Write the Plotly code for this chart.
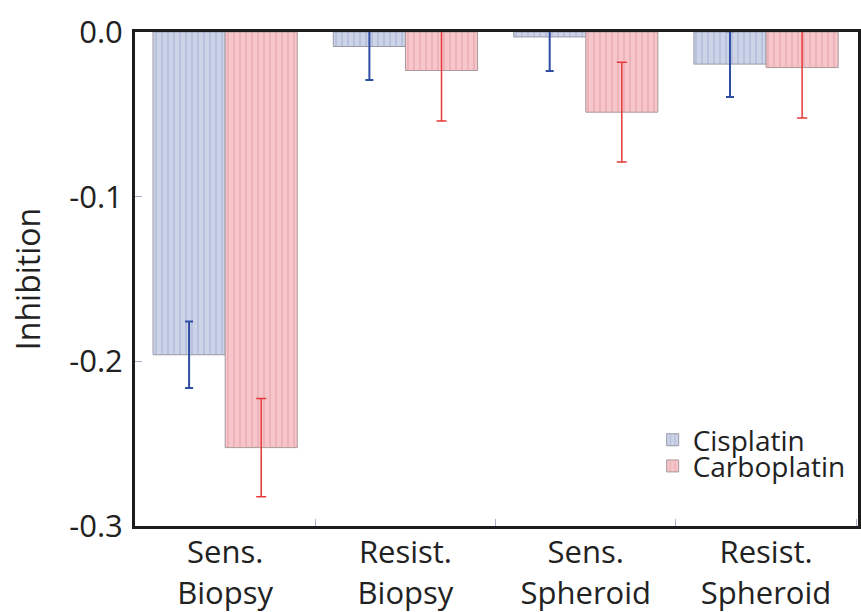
import plotly.graph_objects as go

categories = ["Sens.<br>Biopsy", "Resist.<br>Biopsy", "Sens.<br>Spheroid", "Resist.<br>Spheroid"]
cisplatin = [-0.196, -0.0088, -0.003, -0.0195]
cisplatin_err = [0.0202, 0.0204, 0.0207, 0.0200]
carboplatin = [-0.2524, -0.0234, -0.0487, -0.0216]
carboplatin_err = [0.0299, 0.0307, 0.0303, 0.0307]
y_tickvals = [0.0, -0.1, -0.2, -0.3]
y_ticktext = ["0.0", "-0.1", "-0.2", "-0.3"]

FONT = "Open Sans"
legend_font = dict(size=28, family=FONT, color="#222222")

fig = go.Figure()
fig.add_trace(go.Bar(
    name="Cisplatin", x=categories, y=cisplatin, legend="legend",
    marker=dict(color="#cbd2e7",
                line=dict(color="#9a9aa6", width=1),
                pattern=dict(shape="|", size=6, solidity=0.3,
                             fgcolor="#b6bfdc", bgcolor="#cdd4e8", fillmode="replace")),
    error_y=dict(type="data", array=cisplatin_err, color="#2f4ea3", thickness=2, width=4),
))
fig.add_trace(go.Bar(
    name="Carboplatin", x=categories, y=carboplatin, legend="legend2",
    marker=dict(color="#f5c3c7",
                line=dict(color="#a89a9c", width=1),
                pattern=dict(shape="|", size=6, solidity=0.3,
                             fgcolor="#eeb1b7", bgcolor="#f6c6ca", fillmode="replace")),
    error_y=dict(type="data", array=carboplatin_err, color="#e6393a", thickness=1.5, width=5),
))

fig.update_layout(
    width=861, height=612,
    margin=dict(l=135, r=0, t=32, b=86),
    paper_bgcolor="white", plot_bgcolor="white",
    barmode="group", bargap=0.2, bargroupgap=0.0,
    font=dict(family=FONT, color="#222222", size=31),
    showlegend=True,
    legend=dict(x=0.716, xanchor="left", y=0.174, yanchor="middle",
                bgcolor="rgba(0,0,0,0)", font=legend_font, itemwidth=30),
    legend2=dict(x=0.716, xanchor="left", y=0.121, yanchor="middle",
                 bgcolor="rgba(0,0,0,0)", font=legend_font, itemwidth=30),
)
fig.update_xaxes(
    range=[-0.5, 3.51], showline=True, linecolor="#1c1c1c", linewidth=3, mirror=True,
    ticks="inside", tickson="boundaries", ticklen=7, tickcolor="#a8b0cc", tickwidth=1,
    showgrid=False, automargin=False, ticklabelstandoff=-3,
    tickfont=dict(size=31, family=FONT, color="#222222"),
)
fig.update_yaxes(
    range=[-0.3, 0.0], tickvals=y_tickvals, ticktext=y_ticktext,
    showline=True, linecolor="#1c1c1c", linewidth=3, mirror=True,
    ticks="inside", ticklen=7, tickcolor="#a8b0cc", tickwidth=1,
    showgrid=False, zeroline=False, ticklabelstandoff=3,
    tickfont=dict(size=31, family=FONT, color="#222222"),
    title=dict(text="Inhibition", font=dict(size=32, family=FONT, color="#222222"), standoff=20),
)

fig.write_html("out.html")
